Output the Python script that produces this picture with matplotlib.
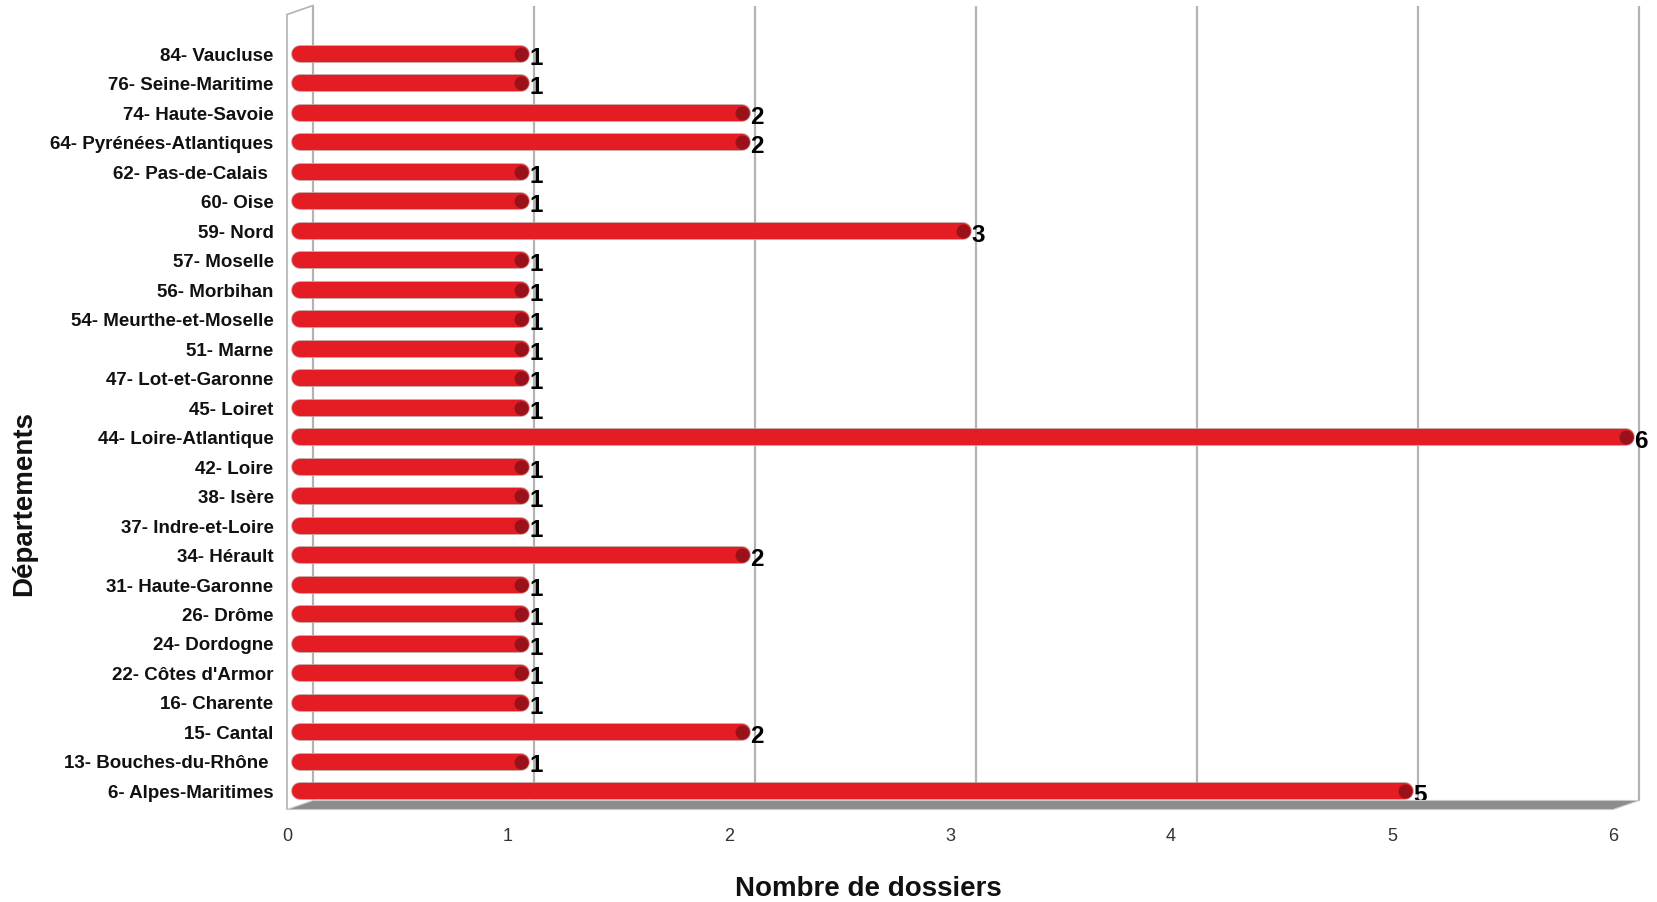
import matplotlib
matplotlib.use("Agg")
import matplotlib.pyplot as plt
import matplotlib.transforms as mtransforms
from matplotlib.patches import Polygon

departements = [
    "6- Alpes-Maritimes", "13- Bouches-du-Rhône ", "15- Cantal", "16- Charente",
    "22- Côtes d'Armor", "24- Dordogne", "26- Drôme", "31- Haute-Garonne",
    "34- Hérault", "37- Indre-et-Loire", "38- Isère", "42- Loire",
    "44- Loire-Atlantique", "45- Loiret", "47- Lot-et-Garonne", "51- Marne",
    "54- Meurthe-et-Moselle", "56- Morbihan", "57- Moselle", "59- Nord",
    "60- Oise", "62- Pas-de-Calais ", "64- Pyrénées-Atlantiques",
    "74- Haute-Savoie", "76- Seine-Maritime", "84- Vaucluse",
]
dossiers = [5, 1, 2, 1, 1, 1, 1, 1, 2, 1, 1, 1, 6, 1, 1, 1, 1, 1, 1, 3,
            1, 1, 2, 2, 1, 1]
x_ticks = [0, 1, 2, 3, 4, 5, 6]

plt.rcParams['font.family'] = ['Liberation Sans', 'DejaVu Sans']

W, H, DPI = 1657, 903, 100
fig = plt.figure(figsize=(W / DPI, H / DPI), dpi=DPI, facecolor="white")
# axes = mid-depth plane of the pseudo 3d chart
ax = fig.add_axes([300 / W, (H - 806) / H, 1326 / W, 795 / H])
ax.set_xlim(0, 6)
ax.set_ylim(-0.475, 26.49)
ax.axis("off")

# depth offsets (pixels) for back wall and front edge
dx, dy = 13 / DPI, 4.5 / DPI
back = ax.transData + mtransforms.ScaledTranslation(dx, dy, fig.dpi_scale_trans)
front = ax.transData + mtransforms.ScaledTranslation(-dx, -dy, fig.dpi_scale_trans)
y0, y1 = ax.get_ylim()

grid_col = "#b3b3b3"
ax.vlines(x_ticks, y0, y1, colors=grid_col, linewidth=1.6, transform=back,
          clip_on=False, zorder=1)
ax.vlines([0], y0, y1, colors=grid_col, linewidth=1.2, transform=front,
          clip_on=False, zorder=1)
# top connector between front-left and back-left edges
p_front = front.transform((0, y1))
p_back = back.transform((0, y1))
fig.add_artist(plt.Line2D([p_front[0] / W, p_back[0] / W],
                          [p_front[1] / H, p_back[1] / H],
                          color=grid_col, lw=1.2))

# floor
pts = [front.transform((0, y0)), front.transform((6, y0)),
       back.transform((6, y0)), back.transform((0, y0))]
floor = Polygon([(px / W, py / H) for px, py in pts], closed=True,
                facecolor="#8c8c8c", edgecolor="#c8c8c8", lw=0.8,
                transform=fig.transFigure)
fig.add_artist(floor)

ypos = list(range(len(departements)))
bar_lw = 16 * 72 / DPI
outline = ax.hlines(ypos, 0, dossiers, colors="#c39a9a", linewidth=bar_lw + 1.2,
                    zorder=3, clip_on=False)
outline.set_capstyle("round")
bars = ax.hlines(ypos, 0, dossiers, colors="#e41d25", linewidth=bar_lw,
                 zorder=4, clip_on=False)
bars.set_capstyle("round")
ax.scatter(dossiers, ypos, s=(14 * 72 / DPI) ** 2, color="#9a1219",
           zorder=5, clip_on=False, linewidths=0)

for v, y in zip(dossiers, ypos):
    ax.annotate(str(v), (v, y), xytext=(6, -2.5), textcoords="offset points",
                ha="left", va="center", fontsize=17.5, fontweight="bold",
                color="black", zorder=6)

for d, y in zip(departements, ypos):
    ax.annotate(d, (0, y), xytext=(-19, -1), textcoords="offset points",
                ha="right", va="center", fontsize=13.5, fontweight="bold",
                color="#111111")

for t in x_ticks:
    ax.annotate(str(t), (t, y0), xytext=(-9.4, -22), textcoords="offset points",
                ha="center", va="center", fontsize=13, color="#333333")

fig.text(868 / W, 1 - 889 / H, "Nombre de dossiers", ha="center", va="center",
         fontsize=20, fontweight="bold", color="#111111")
fig.text(24 / W, 1 - 504 / H, "Départements", ha="center", va="center",
         rotation=90, fontsize=20, fontweight="bold", color="#111111")

plt.savefig("out.png", dpi=DPI, facecolor="white")
